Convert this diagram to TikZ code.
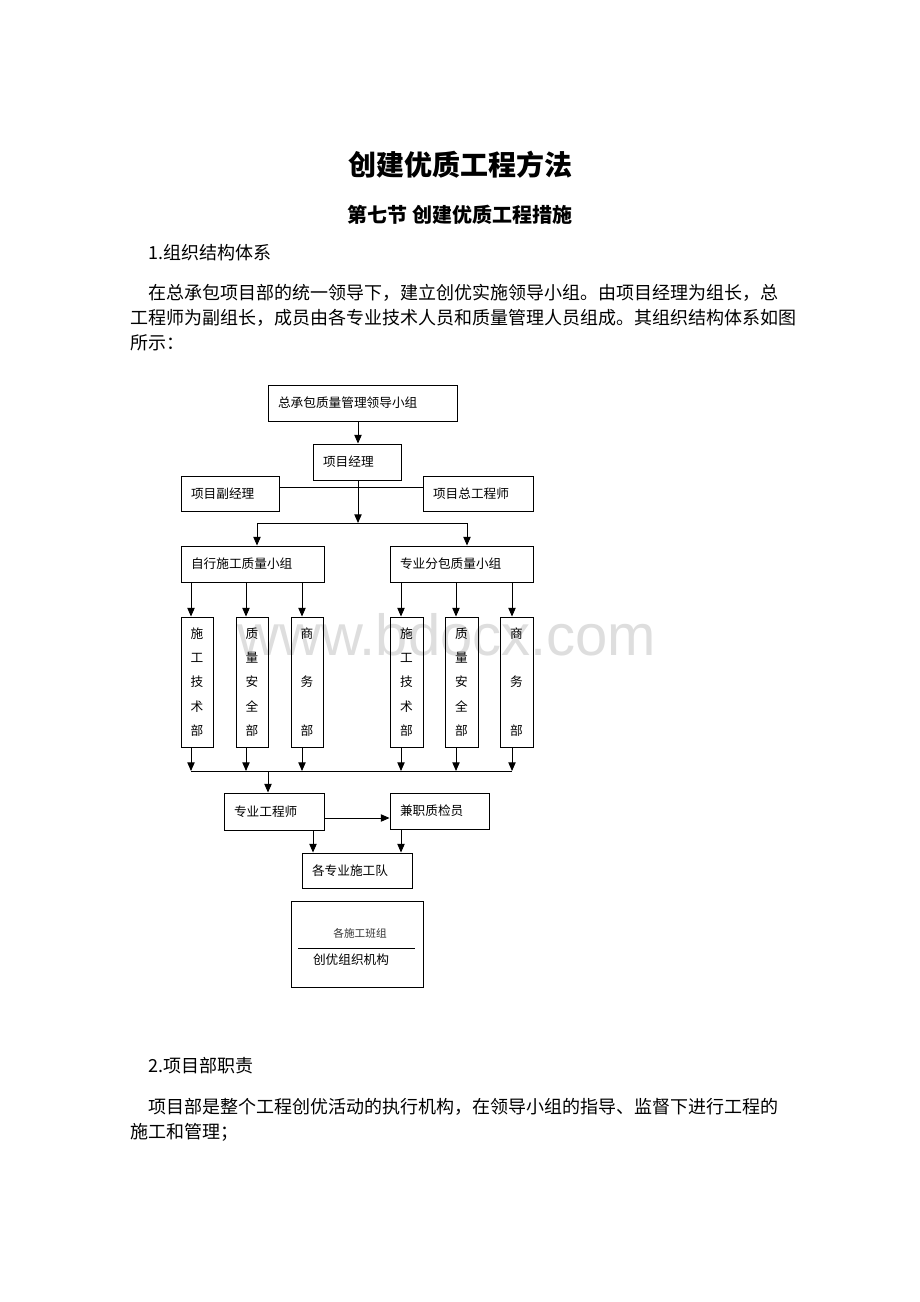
\documentclass[tikz,border=0pt]{standalone}
\usepackage{fontspec}
\setmainfont{Noto Sans CJK SC}
\newfontfamily\wmfont{Liberation Sans}
\usetikzlibrary{arrows.meta,calc}
\tikzset{
  box/.style={draw, line width=0.7pt, rectangle, inner xsep=7.5pt, inner ysep=0pt, align=left, font=\fontsize{9.5pt}{12pt}\selectfont},
  vbox/.style={draw, line width=0.7pt, rectangle, inner sep=0pt, align=center, font=\fontsize{9.5pt}{18.2pt}\selectfont},
  arr/.style={line width=0.7pt, -{Triangle[length=6.5pt,width=5.5pt]}},
  ln/.style={line width=0.7pt},
  body/.style={anchor=west, inner sep=0pt, font=\fontsize{13.5pt}{16pt}\selectfont},
}
\newcommand\bx[6]{%
  \pgfmathsetmacro\bxw{(#4-#2)*0.75}%
  \pgfmathsetmacro\bxh{(#5-#3)*0.75}%
  \pgfmathsetmacro\bxt{(#4-#2-20)*0.75}%
  \node[box, minimum width=\bxw pt, minimum height=\bxh pt, text width=\bxt pt] (#1) at ({(#2+#4)/2},{(#3+#5)/2}) {#6};}
\newcommand\vbx[4]{%
  \pgfmathsetmacro\bxw{(#3-#2)*0.75}%
  \node[vbox, minimum width=\bxw pt, minimum height=97.5pt] (#1) at ({(#2+#3)/2},682) {#4};}
\begin{document}
\begin{tikzpicture}[x=0.75pt,y=-0.75pt]
\fill[white] (0,0) rectangle (920,1302);
\useasboundingbox (0,0) rectangle (920,1302);

% watermark
\node[anchor=base west, inner sep=0pt, text=black!13, font=\wmfont\fontsize{43.5pt}{50pt}\selectfont] (wmk) at (237,655) {www.bdocx.com};

% headings and text
\node[font=\bfseries\fontsize{21pt}{24pt}\selectfont, inner sep=0pt] (title) at (460,165) {创建优质工程方法};
\node[font=\bfseries\fontsize{15pt}{18pt}\selectfont, inner sep=0pt] (sub) at (460,215) {第七节 创建优质工程措施};
\node[body] (h1) at (148,253) {1.组织结构体系};
\node[body] (p1) at (148,293) {在总承包项目部的统一领导下，建立创优实施领导小组。由项目经理为组长，总};
\node[body] (p2) at (130,318) {工程师为副组长，成员由各专业技术人员和质量管理人员组成。其组织结构体系如图};
\node[body] (p3) at (130,343) {所示：};
\node[body] (h2) at (148,1066) {2.项目部职责};
\node[body] (q1) at (148,1107) {项目部是整个工程创优活动的执行机构，在领导小组的指导、监督下进行工程的};
\node[body] (q2) at (130,1132) {施工和管理；};

% chart boxes
\bx{top}{268}{385}{457}{421}{总承包质量管理领导小组}
\bx{pm}{313}{444}{401}{480}{项目经理}
\bx{dpm}{181}{476}{279}{511}{项目副经理}
\bx{ce}{423}{476}{533}{511}{项目总工程师}
\bx{ga}{181}{546}{324}{582}{自行施工质量小组}
\bx{gb}{390}{546}{533}{582}{专业分包质量小组}
\vbx{va}{181}{213}{施\\工\\技\\术\\部}
\vbx{vb}{236}{268}{质\\量\\安\\全\\部}
\vbx{vc}{291}{323}{商\\~\\务\\~\\部}
\vbx{vd}{390}{423}{施\\工\\技\\术\\部}
\vbx{ve}{445}{478}{质\\量\\安\\全\\部}
\vbx{vf}{500}{533}{商\\~\\务\\~\\部}
\bx{eng}{224}{793}{324}{830}{专业工程师}
\bx{ins}{390}{793}{489}{829}{兼职质检员}
\bx{team}{302}{853}{412}{888}{各专业施工队}
\node[draw, line width=0.7pt, minimum width=99pt, minimum height=64.5pt, inner sep=0pt] (fin) at (357,944) {};
\node[font=\fontsize{8pt}{10pt}\selectfont, text=black!80, inner sep=0pt] (fint) at (360,933) {各施工班组};
\coordinate (fl1) at (298,948);
\coordinate (fl2) at (415,948);
\draw[ln] (fl1) -- (fl2);
\node[font=\fontsize{9.5pt}{12pt}\selectfont, inner sep=0pt] (fcap) at (351,960) {创优组织机构};

% helper coordinates
\coordinate (xt) at (358,0);
\coordinate (yh) at (0,487);
\coordinate (yb) at (0,523);
\coordinate (xl) at (257,0);
\coordinate (xr) at (467,0);
\coordinate (ybus) at (0,771);
\coordinate (cola) at (191,0);
\coordinate (colb) at (246,0);
\coordinate (colc) at (302,0);
\coordinate (cold) at (401,0);
\coordinate (cole) at (456,0);
\coordinate (colf) at (512,0);
\coordinate (xeng) at (268,0);
\coordinate (ya) at (0,818);
\coordinate (xs1) at (313,0);
\coordinate (xs2) at (401,0);

% connectors
\draw[arr] (top.south -| xt) -- (pm.north -| xt);
\draw[ln] (dpm.east |- yh) -- (ce.west |- yh);
\draw[arr] (pm.south -| xt) -- (xt |- yb);
\draw[ln] (xl |- yb) -- (xr |- yb);
\draw[arr] (xl |- yb) -- (ga.north -| xl);
\draw[arr] (xr |- yb) -- (gb.north -| xr);
\foreach \n in {a,b,c}{\draw[arr] (ga.south -| col\n) -- (v\n.north -| col\n);}
\foreach \n in {d,e,f}{\draw[arr] (gb.south -| col\n) -- (v\n.north -| col\n);}
\foreach \n in {a,b,c,d,e,f}{\draw[arr] (v\n.south -| col\n) -- (col\n |- ybus);}
\draw[ln] (cola |- ybus) -- (colf |- ybus);
\draw[arr] (xeng |- ybus) -- (eng.north -| xeng);
\draw[arr] (eng.east |- ya) -- (ins.west |- ya);
\draw[arr] (eng.south -| xs1) -- (team.north -| xs1);
\draw[arr] (ins.south -| xs2) -- (team.north -| xs2);
\end{tikzpicture}
\end{document}
